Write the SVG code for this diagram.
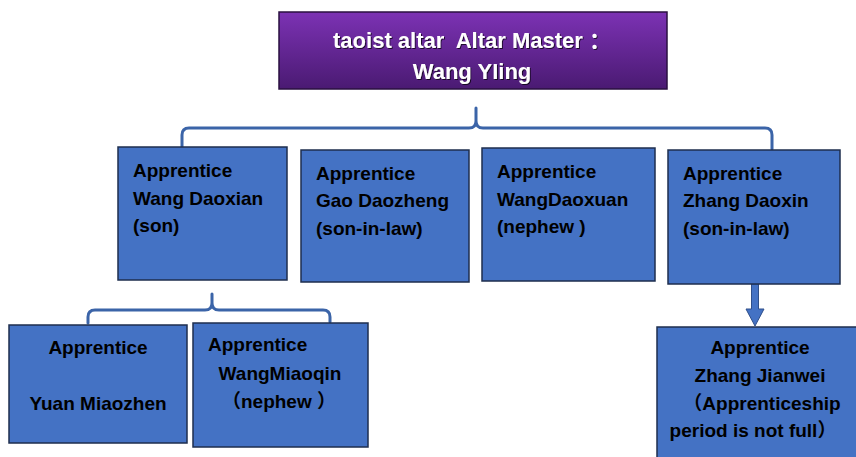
<svg xmlns="http://www.w3.org/2000/svg" width="856" height="457" viewBox="0 0 856 457">
<defs>
<linearGradient id="purple" x1="0" y1="0" x2="0" y2="1">
<stop offset="0" stop-color="#7C32B4"/>
<stop offset="1" stop-color="#4A1A72"/>
</linearGradient>
<filter id="ts" x="-10%" y="-30%" width="120%" height="160%">
<feDropShadow dx="1" dy="1" stdDeviation="0.6" flood-color="#000" flood-opacity="0.7"/>
</filter>
<style>
.box{fill:#4472C4;stroke:#1E2E4E;stroke-width:1.5}
.t{font-family:"Liberation Sans","Noto Sans CJK SC",sans-serif;font-weight:bold;font-size:19px;fill:#000;white-space:pre}
.c{text-anchor:middle}
.top{font-family:"Liberation Sans","Noto Sans CJK SC",sans-serif;font-weight:bold;font-size:22px;fill:#fff;text-anchor:middle;white-space:pre}
.br{fill:none;stroke:#3B64A8;stroke-width:3;stroke-linejoin:round;stroke-linecap:round}
</style>
</defs>
<rect width="856" height="457" fill="#fff"/>
<g id="connectors">
<path class="br" d="M182,151 V135 Q182,128 189,128 H469 Q476,128 476,121 V108 M476,108 V121 Q476,128 483,128 H765 Q772,128 772,135 V149"/>
<path class="br" d="M88,323 V317 Q88,310 95,310 H205 Q212,310 212,303 V294 M212,294 V303 Q212,310 219,310 H323 Q330,310 330,317 V322"/>
<path d="M751.5,284 H758.5 V309 H764 L755,326 L746,309 H751.5 Z" fill="#4472C4" stroke="#2F4F8A" stroke-width="1"/>
</g>
<g id="master">
<rect x="279" y="12" width="388" height="77" fill="url(#purple)" stroke="#2A1040" stroke-width="1.5"/>
<g filter="url(#ts)">
<text class="top" x="472" y="48">taoist altar  Altar Master ：</text>
<text class="top" x="472" y="79">Wang YIing</text>
</g>
</g>
<g id="n1">
<rect class="box" x="118" y="147" width="169" height="133"/>
<text class="t" x="133" y="177">Apprentice</text>
<text class="t" x="133" y="205">Wang Daoxian</text>
<text class="t" x="133" y="232">(son)</text>
</g>
<g id="n2">
<rect class="box" x="301" y="150" width="168" height="132"/>
<text class="t" x="316" y="180">Apprentice</text>
<text class="t" x="316" y="207">Gao Daozheng</text>
<text class="t" x="316" y="235">(son-in-law)</text>
</g>
<g id="n3">
<rect class="box" x="482" y="148" width="173" height="133"/>
<text class="t" x="497" y="178">Apprentice</text>
<text class="t" x="497" y="206">WangDaoxuan</text>
<text class="t" x="497" y="233">(nephew )</text>
</g>
<g id="n4">
<rect class="box" x="668" y="150" width="172" height="134"/>
<text class="t" x="683" y="180">Apprentice</text>
<text class="t" x="683" y="207">Zhang Daoxin</text>
<text class="t" x="683" y="235">(son-in-law)</text>
</g>
<g id="n5">
<rect class="box" x="9" y="325" width="178" height="118"/>
<text class="t c" x="98" y="354">Apprentice</text>
<text class="t c" x="98" y="410">Yuan Miaozhen</text>
</g>
<g id="n6">
<rect class="box" x="193" y="323" width="175" height="124"/>
<text class="t" x="208" y="351">Apprentice</text>
<text class="t c" x="280" y="380">WangMiaoqin</text>
<text class="t c" x="279" y="408">（nephew ）</text>
</g>
<g id="n7">
<rect class="box" x="657" y="327" width="205" height="140"/>
<text class="t c" x="760" y="354">Apprentice</text>
<text class="t c" x="760" y="382">Zhang Jianwei</text>
<text class="t c" x="762" y="410">（Apprenticeship</text>
<text class="t c" x="753" y="437">period is not full）</text>
</g>
</svg>
